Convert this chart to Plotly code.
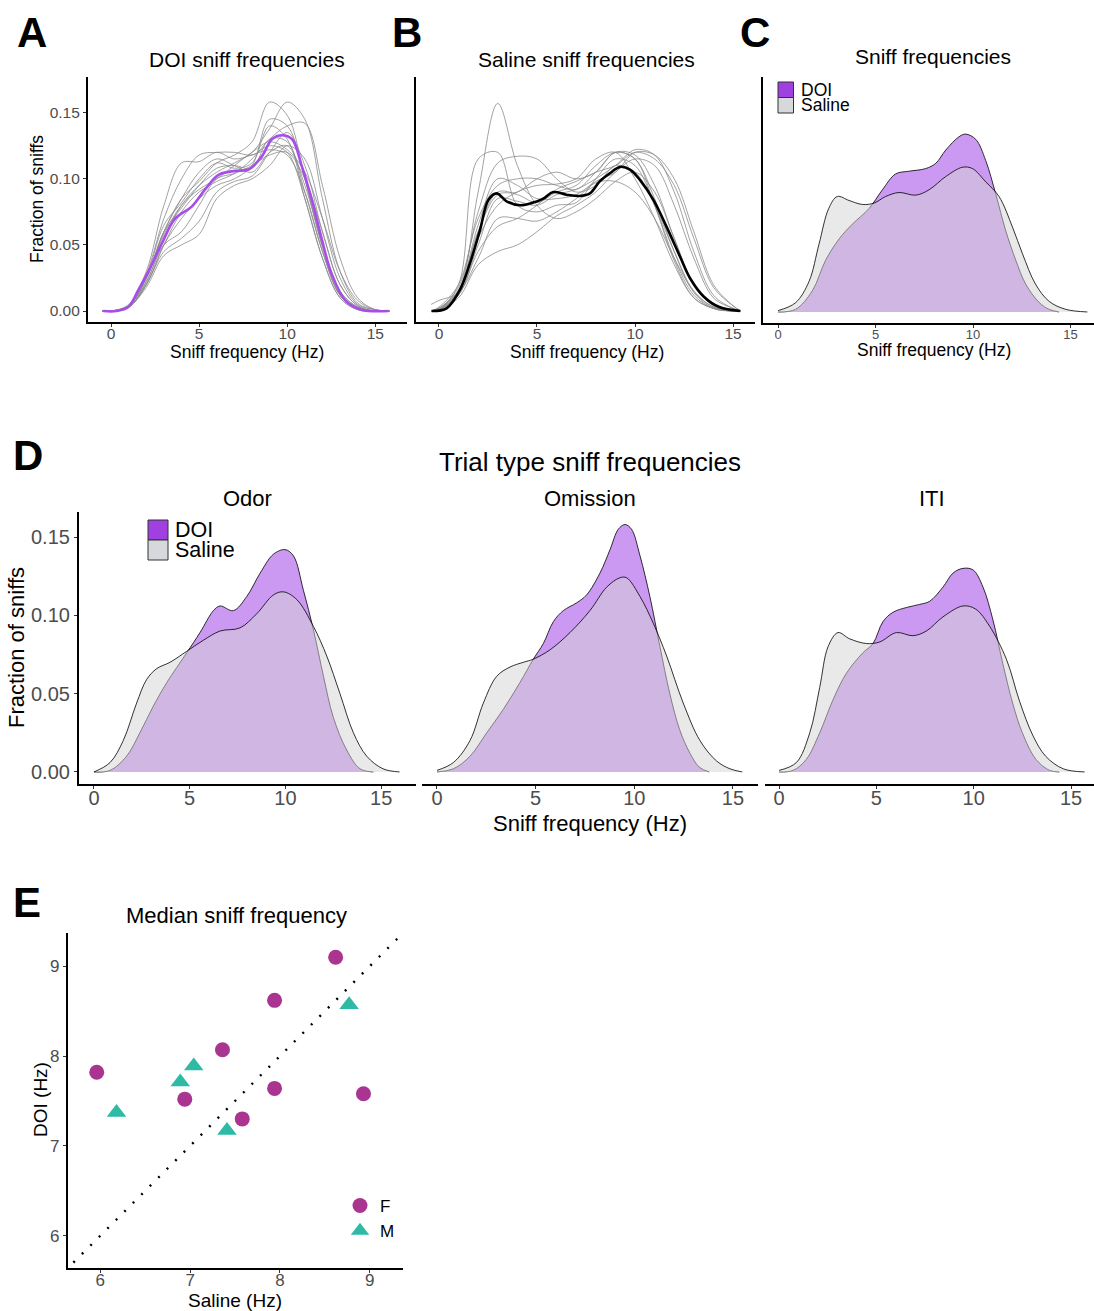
import plotly.graph_objects as go

W, H = 1094, 1311
FONT = "Liberation Sans, Arial, sans-serif"

# ---------------- Panel A: DOI sniff frequencies (per-animal densities) -------------
grid_A = [-0.5, 0, 1, 2, 3, 4, 5, 6, 7, 8, 9, 10, 11, 12, 13, 14, 15, 15.8]
A_lines = [
    [0, 0, 0.004, 0.025, 0.060, 0.085, 0.098, 0.112, 0.118, 0.128, 0.158, 0.148, 0.100, 0.048, 0.012, 0.002, 0, 0],
    [0, 0, 0.003, 0.022, 0.055, 0.080, 0.095, 0.105, 0.112, 0.120, 0.138, 0.158, 0.145, 0.085, 0.030, 0.006, 0.001, 0],
    [0, 0, 0.003, 0.020, 0.050, 0.075, 0.090, 0.098, 0.104, 0.115, 0.130, 0.140, 0.142, 0.095, 0.040, 0.010, 0.001, 0],
    [0, 0, 0.005, 0.030, 0.080, 0.112, 0.113, 0.120, 0.115, 0.118, 0.122, 0.118, 0.090, 0.045, 0.012, 0.002, 0, 0],
    [0, 0, 0.004, 0.028, 0.070, 0.100, 0.118, 0.120, 0.120, 0.118, 0.125, 0.120, 0.085, 0.040, 0.010, 0.001, 0, 0],
    [0, 0, 0.003, 0.020, 0.045, 0.055, 0.068, 0.090, 0.098, 0.102, 0.120, 0.135, 0.110, 0.060, 0.020, 0.004, 0, 0],
    [0, 0, 0.003, 0.018, 0.042, 0.050, 0.058, 0.085, 0.095, 0.100, 0.110, 0.125, 0.115, 0.070, 0.025, 0.005, 0.001, 0],
    [0, 0, 0.004, 0.025, 0.060, 0.078, 0.095, 0.108, 0.110, 0.108, 0.130, 0.128, 0.090, 0.045, 0.012, 0.002, 0, 0],
    [0, 0, 0.004, 0.026, 0.065, 0.082, 0.100, 0.112, 0.108, 0.112, 0.140, 0.130, 0.085, 0.040, 0.010, 0.001, 0, 0],
    [0, 0, 0.003, 0.022, 0.050, 0.060, 0.080, 0.100, 0.104, 0.110, 0.118, 0.120, 0.100, 0.060, 0.020, 0.004, 0, 0],
    [0, 0, 0.004, 0.024, 0.060, 0.085, 0.105, 0.115, 0.110, 0.105, 0.120, 0.125, 0.095, 0.050, 0.015, 0.003, 0, 0],
    [0, 0, 0.003, 0.020, 0.050, 0.070, 0.085, 0.095, 0.100, 0.110, 0.145, 0.140, 0.100, 0.050, 0.015, 0.003, 0, 0],
    [0, 0, 0.004, 0.025, 0.058, 0.080, 0.092, 0.100, 0.110, 0.120, 0.128, 0.122, 0.105, 0.070, 0.030, 0.008, 0.001, 0],
]
A_mean_x = [-0.44, 0.3, 0.98, 1.55, 2.12, 2.88, 3.64, 4.58, 5.34, 6.1, 7.05, 7.8, 8.56, 9.13, 9.7,
            10.27, 10.84, 11.4, 11.97, 12.5, 13.3, 14.2, 15.75]
A_mean_y = [0, 0, 0.003, 0.016, 0.030, 0.051, 0.070, 0.079, 0.092, 0.103, 0.106, 0.107, 0.117, 0.130, 0.133,
            0.130, 0.109, 0.084, 0.054, 0.029, 0.008, 0.001, 0]

# ---------------- Panel B: Saline sniff frequencies ---------------------------------
grid_B = [-0.4, 0, 1, 2, 3, 4, 5, 6, 7, 8, 9, 10, 11, 12, 13, 14, 15, 15.4]
B_lines = [
    [0, 0.001, 0.015, 0.090, 0.157, 0.110, 0.080, 0.070, 0.075, 0.085, 0.098, 0.105, 0.090, 0.055, 0.020, 0.004, 0, 0],
    [0, 0.001, 0.020, 0.115, 0.120, 0.080, 0.075, 0.080, 0.082, 0.100, 0.115, 0.110, 0.080, 0.040, 0.012, 0.002, 0, 0],
    [0, 0.002, 0.018, 0.075, 0.112, 0.117, 0.115, 0.100, 0.090, 0.095, 0.110, 0.105, 0.080, 0.045, 0.015, 0.003, 0, 0],
    [0, 0.003, 0.020, 0.070, 0.095, 0.100, 0.100, 0.095, 0.092, 0.105, 0.120, 0.118, 0.095, 0.055, 0.020, 0.004, 0, 0],
    [0, 0.002, 0.015, 0.060, 0.090, 0.088, 0.082, 0.090, 0.095, 0.110, 0.120, 0.115, 0.085, 0.045, 0.014, 0.002, 0, 0],
    [0, 0.001, 0.012, 0.050, 0.085, 0.083, 0.080, 0.088, 0.092, 0.100, 0.110, 0.122, 0.118, 0.090, 0.045, 0.012, 0.002, 0],
    [0, 0.001, 0.012, 0.045, 0.064, 0.070, 0.080, 0.092, 0.098, 0.105, 0.110, 0.120, 0.115, 0.095, 0.055, 0.018, 0.004, 0],
    [0, 0.001, 0.010, 0.035, 0.045, 0.050, 0.060, 0.072, 0.080, 0.090, 0.105, 0.115, 0.110, 0.080, 0.040, 0.010, 0.002, 0],
    [0, 0.001, 0.014, 0.055, 0.080, 0.090, 0.095, 0.096, 0.100, 0.115, 0.120, 0.100, 0.070, 0.035, 0.010, 0.002, 0, 0],
    [0, 0.002, 0.016, 0.065, 0.100, 0.095, 0.085, 0.085, 0.088, 0.098, 0.105, 0.120, 0.118, 0.100, 0.060, 0.020, 0.004, 0],
    [0.005, 0.008, 0.014, 0.040, 0.070, 0.070, 0.068, 0.075, 0.085, 0.097, 0.098, 0.090, 0.070, 0.040, 0.015, 0.003, 0, 0],
    [0, 0.001, 0.015, 0.060, 0.088, 0.090, 0.100, 0.105, 0.100, 0.105, 0.120, 0.115, 0.080, 0.038, 0.010, 0.002, 0, 0],
]
B_mean_x = [-0.37, 0.39, 1.07, 1.58, 2.09, 2.52, 2.94, 3.45, 4.13, 4.81, 5.32, 5.83, 6.5, 7.19, 7.7, 8.2,
            8.7, 9.23, 9.74, 10.26, 10.94, 11.6, 12.3, 12.8, 13.5, 14.3, 15.36]
B_mean_y = [0, 0.002, 0.016, 0.036, 0.061, 0.084, 0.089, 0.083, 0.080, 0.082, 0.085, 0.090, 0.088, 0.087,
            0.089, 0.098, 0.104, 0.109, 0.107, 0.099, 0.084, 0.064, 0.041, 0.025, 0.011, 0.003, 0]

# ---------------- Panel C: pooled densities ------------------------------------------
C_doi_x = [0, 0.9, 1.76, 2.44, 3.13, 3.8, 4.67, 5.35, 6.03, 6.7, 7.57, 8.09, 8.6, 9.28, 9.62, 10.14,
           10.65, 11.16, 11.68, 12.19, 12.7, 13.4, 13.9, 14.4]
C_doi_y = [0, 0.002, 0.016, 0.039, 0.055, 0.066, 0.078, 0.092, 0.104, 0.106, 0.108, 0.112, 0.122, 0.132,
           0.134, 0.130, 0.114, 0.089, 0.061, 0.039, 0.021, 0.007, 0.002, 0]
C_sal_x = [0, 0.9, 1.59, 2.1, 2.6, 3.04, 3.64, 4.32, 4.92, 5.52, 6.2, 7.06, 7.74, 8.6, 9.45, 9.97,
           10.65, 11.33, 12.02, 12.53, 13.2, 13.9, 14.75, 15.86]
C_sal_y = [0.001, 0.007, 0.023, 0.051, 0.078, 0.087, 0.084, 0.081, 0.082, 0.087, 0.090, 0.088, 0.092,
           0.102, 0.109, 0.108, 0.098, 0.087, 0.064, 0.044, 0.021, 0.008, 0.002, 0]

# ---------------- Panel D: trial-type densities --------------------------------------
facets = ["Odor", "Omission", "ITI"]
odor_doi_x = [0, 0.84, 1.7, 2.4, 3.1, 3.8, 4.84, 5.54, 6.24, 6.59, 7.28, 7.98, 8.68, 9.37, 9.98, 10.42,
              10.94, 11.46, 11.99, 12.5, 13.2, 13.9, 14.6]
odor_doi_y = [0, 0.001, 0.010, 0.025, 0.042, 0.057, 0.076, 0.089, 0.103, 0.106, 0.103, 0.112, 0.127,
              0.139, 0.142, 0.138, 0.116, 0.091, 0.061, 0.035, 0.014, 0.002, 0]
odor_sal_x = [0, 0.84, 1.53, 2.23, 2.75, 3.28, 3.97, 4.84, 5.7, 6.59, 7.63, 8.5, 9.37, 9.9, 10.6, 11.46,
              12.16, 12.85, 13.55, 14.25, 15.1, 15.96]
odor_sal_y = [0, 0.006, 0.020, 0.044, 0.059, 0.066, 0.070, 0.077, 0.084, 0.090, 0.092, 0.101, 0.113,
              0.115, 0.110, 0.093, 0.074, 0.050, 0.025, 0.010, 0.002, 0]
omis_doi_x = [0, 0.83, 1.67, 2.52, 3.36, 4.2, 4.88, 5.39, 5.9, 6.4, 7.08, 7.58, 8.26, 8.77, 9.19, 9.53,
              9.86, 10.29, 10.79, 11.3, 11.8, 12.3, 12.82, 13.3, 13.8]
omis_doi_y = [0, 0.002, 0.010, 0.025, 0.040, 0.057, 0.072, 0.082, 0.096, 0.103, 0.108, 0.113, 0.127,
              0.142, 0.155, 0.158, 0.155, 0.138, 0.112, 0.080, 0.050, 0.027, 0.012, 0.003, 0]
omis_sal_x = [0, 0.83, 1.67, 2.35, 3.02, 3.7, 4.37, 4.88, 5.73, 6.74, 7.75, 8.6, 9.27, 9.61, 10.29,
              10.96, 11.64, 12.48, 13.33, 14.17, 14.85, 15.47]
omis_sal_y = [0.001, 0.006, 0.020, 0.044, 0.061, 0.067, 0.070, 0.072, 0.078, 0.089, 0.103, 0.118, 0.124,
              0.124, 0.112, 0.095, 0.074, 0.044, 0.020, 0.007, 0.002, 0]
iti_doi_x = [0, 0.72, 1.4, 2.09, 2.77, 3.46, 4.3, 4.83, 5.34, 5.86, 6.54, 7.23, 7.74, 8.42, 8.94, 9.45,
             9.97, 10.48, 10.99, 11.5, 12.0, 12.5, 13.2, 13.9, 14.4]
iti_doi_y = [0, 0.001, 0.008, 0.025, 0.046, 0.063, 0.076, 0.082, 0.096, 0.102, 0.105, 0.107, 0.109,
             0.118, 0.127, 0.130, 0.129, 0.118, 0.097, 0.069, 0.044, 0.025, 0.008, 0.001, 0]
iti_sal_x = [0, 0.89, 1.58, 2.09, 2.52, 3.03, 3.63, 4.49, 5.17, 6.03, 6.88, 7.57, 8.42, 9.45, 10.1,
             10.82, 11.68, 12.36, 13.05, 13.7, 14.6, 15.7]
iti_sal_y = [0.001, 0.006, 0.025, 0.054, 0.080, 0.089, 0.085, 0.082, 0.083, 0.089, 0.087, 0.090, 0.099,
             0.106, 0.104, 0.093, 0.072, 0.045, 0.023, 0.010, 0.002, 0]

# ---------------- Panel E: median sniff frequency ------------------------------------
F_saline = [5.96, 8.62, 7.94, 7.36, 6.94, 7.94, 7.58, 8.93]
F_doi = [7.82, 9.10, 8.62, 8.07, 7.52, 7.64, 7.30, 7.58]
M_saline = [6.18, 6.89, 7.04, 7.41, 8.77]
M_doi = [7.37, 7.71, 7.89, 7.17, 8.57]
identity_line = [5.7, 9.35]

legend_groups = ["DOI", "Saline"]

# ---------------- styling -------------------------------------------------------------
DOI_FILL = "rgba(153,51,230,0.5)"
SAL_FILL = "rgba(211,211,211,0.5)"
KEY_COLORS = ["#A040E0", "#D6D8DB"]
GREY_LINE = "#8A8A8A"
PURPLE = "#A64DEB"
MAGENTA = "#A93591"
TEAL = "#2DBBA6"


def px(x):
    return x / W


def py(y):
    return 1 - y / H


fig = go.Figure()

# Panel A
for ys in A_lines:
    fig.add_trace(go.Scatter(x=grid_A, y=ys, mode="lines", line=dict(color=GREY_LINE, width=0.8, shape="spline"),
                             showlegend=False, xaxis="x", yaxis="y", hoverinfo="skip"))
fig.add_trace(go.Scatter(x=A_mean_x, y=A_mean_y, mode="lines", line=dict(color=PURPLE, width=2.6, shape="spline"),
                         showlegend=False, xaxis="x", yaxis="y"))

# Panel B
for ys in B_lines:
    fig.add_trace(go.Scatter(x=grid_B, y=ys, mode="lines", line=dict(color=GREY_LINE, width=0.8, shape="spline"),
                             showlegend=False, xaxis="x2", yaxis="y2", hoverinfo="skip"))
fig.add_trace(go.Scatter(x=B_mean_x, y=B_mean_y, mode="lines", line=dict(color="black", width=2.6, shape="spline"),
                         showlegend=False, xaxis="x2", yaxis="y2"))


def add_density(xs, ys, fill, xa, ya, name):
    fig.add_trace(go.Scatter(x=xs, y=ys, mode="lines", fill="tozeroy", fillcolor=fill, name=name,
                             line=dict(color="black", width=0.8, shape="spline"),
                             showlegend=False, xaxis=xa, yaxis=ya))


# Panel C
add_density(C_doi_x, C_doi_y, DOI_FILL, "x3", "y3", "DOI")
add_density(C_sal_x, C_sal_y, SAL_FILL, "x3", "y3", "Saline")

# Panel D
d_data = [(odor_doi_x, odor_doi_y, odor_sal_x, odor_sal_y),
          (omis_doi_x, omis_doi_y, omis_sal_x, omis_sal_y),
          (iti_doi_x, iti_doi_y, iti_sal_x, iti_sal_y)]
for i, (dx, dy, sx, sy) in enumerate(d_data):
    xa, ya = "x%d" % (4 + i), "y%d" % (4 + i)
    add_density(dx, dy, DOI_FILL, xa, ya, "DOI")
    add_density(sx, sy, SAL_FILL, xa, ya, "Saline")

# Panel E
fig.add_trace(go.Scatter(x=identity_line, y=identity_line, mode="lines",
                         line=dict(color="black", width=2.4, dash="2px,10px"),
                         showlegend=False, xaxis="x7", yaxis="y7"))
fig.add_trace(go.Scatter(x=F_saline, y=F_doi, mode="markers", name="F",
                         marker=dict(symbol="circle", size=15, color=MAGENTA),
                         legend="legend3", xaxis="x7", yaxis="y7"))
fig.add_trace(go.Scatter(x=M_saline, y=M_doi, mode="markers", name="M",
                         marker=dict(symbol="triangle-up", size=17, color=TEAL),
                         legend="legend3", xaxis="x7", yaxis="y7"))

# ---------------- axes -----------------------------------------------------------------
TICKCOL = "#4D4D4D"


def xaxis(l, r, rng, fs, shift, tickvals=(0, 5, 10, 15)):
    return dict(domain=[px(l), px(r)], range=rng, showline=True, linecolor="black", linewidth=2.2,
                ticks="outside", ticklen=3, tickcolor="#333333", tickwidth=1, ticklabelstandoff=shift,
                tickvals=list(tickvals), showgrid=False, zeroline=False,
                tickfont=dict(family=FONT, size=fs, color=TICKCOL), fixedrange=True)


def yaxis(anchor, b, t, rng, fs=15, labels=True, line=True):
    d = dict(domain=[py(b), py(t)], range=rng, showgrid=False, zeroline=False, anchor=anchor,
             showline=line, linecolor="black", linewidth=2.2,
             tickfont=dict(family=FONT, size=fs, color=TICKCOL), fixedrange=True)
    if labels:
        d.update(ticks="outside", ticklen=3, tickcolor="#333333", tickwidth=1,
                 tickvals=[0, 0.05, 0.10, 0.15], tickformat=".2f")
    else:
        d.update(showticklabels=False, ticks="")
    return d


yr_top = [-0.0083, 0.177]
yr_D = [-0.0077, 0.166]

layout = dict(
    width=W, height=H, margin=dict(l=0, r=0, t=0, b=0),
    paper_bgcolor="white", plot_bgcolor="rgba(0,0,0,0)",
    font=dict(family=FONT, color="black"),
    xaxis=dict(xaxis(88, 407, [-1.31, 16.8], 15.5, -7), anchor="y"),
    yaxis=yaxis("x", 322, 77, yr_top, 15.5),
    xaxis2=dict(xaxis(416, 755, [-1.17, 16.12], 15.5, -7), anchor="y2"),
    yaxis2=yaxis("x2", 322, 77, yr_top, labels=False),
    xaxis3=dict(xaxis(763, 1094, [-0.77, 16.2], 13, -5), anchor="y3"),
    yaxis3=yaxis("x3", 323, 77, yr_top, labels=False),
    xaxis4=dict(xaxis(79, 416, [-0.78, 16.82], 20, -8), anchor="y4"),
    yaxis4=yaxis("x4", 784, 512, yr_D, 20),
    xaxis5=dict(xaxis(422, 758, [-0.76, 16.27], 20, -8), anchor="y5"),
    yaxis5=yaxis("x5", 784, 512, yr_D, labels=False, line=False),
    xaxis6=dict(xaxis(765, 1094, [-0.72, 16.18], 20, -8), anchor="y6"),
    yaxis6=yaxis("x6", 784, 512, yr_D, labels=False, line=False),
    xaxis7=dict(xaxis(68, 403, [5.64, 9.37], 17, -8, tickvals=(6, 7, 8, 9)), anchor="y7"),
    yaxis7=dict(domain=[py(1268), py(933)], range=[5.64, 9.37], anchor="x7", showgrid=False, zeroline=False,
                showline=True, linecolor="black", linewidth=2.2, ticks="outside", ticklen=3,
                tickcolor="#333333", tickwidth=1, tickvals=[6, 7, 8, 9],
                tickfont=dict(family=FONT, size=17, color=TICKCOL), fixedrange=True),
    legend3=dict(x=px(340), y=py(1188), xanchor="left", yanchor="top", bgcolor="rgba(0,0,0,0)",
                 font=dict(family=FONT, size=17, color="black"), tracegroupgap=0, itemsizing="trace"),
    showlegend=True,
)

annotations = []
shapes = []


def text(x, y, s, size, bold=False, angle=0, anchor="center"):
    annotations.append(dict(x=px(x), y=py(y), xref="paper", yref="paper", text=("<b>%s</b>" % s) if bold else s,
                            showarrow=False, xanchor=anchor, yanchor="middle", textangle=angle,
                            font=dict(family=FONT, size=size, color="black")))


def key_legend(x0, y0, size, fs, gap):
    # fill-key legend (DOI / Saline), keys stacked without gap like ggplot
    for k, (name, col) in enumerate(zip(legend_groups, KEY_COLORS)):
        top = y0 + k * size
        shapes.append(dict(type="rect", xref="paper", yref="paper",
                           x0=px(x0), x1=px(x0 + size), y0=py(top + size), y1=py(top),
                           fillcolor=col, line=dict(color="#333333", width=1)))
        text(x0 + size + gap, top + size / 2, name, fs, anchor="left")


key_legend(778, 82, 15.5, 17.5, 5)
key_legend(148, 520, 20, 21.5, 5)

# panel letters
text(32, 32, "A", 42, True)
text(407, 32, "B", 42, True)
text(755, 32, "C", 42, True)
text(28, 455, "D", 42, True)
text(27, 902, "E", 42, True)
# titles
text(247, 60, "DOI sniff frequencies", 21)
text(586, 60, "Saline sniff frequencies", 21)
text(933, 57, "Sniff frequencies", 21)
text(590, 462, "Trial type sniff frequencies", 26)
for name, cx in zip(facets, [247, 590, 932]):
    text(cx, 498, name, 22)
text(236, 915, "Median sniff frequency", 22)
# axis titles
text(247, 352, "Sniff frequency (Hz)", 17.5)
text(587, 352, "Sniff frequency (Hz)", 17.5)
text(934, 350, "Sniff frequency (Hz)", 17.5)
text(37, 199, "Fraction of sniffs", 17.5, angle=-90)
text(590, 823, "Sniff frequency (Hz)", 22)
text(16, 648, "Fraction of sniffs", 22, angle=-90)
text(235, 1300, "Saline (Hz)", 19)
text(40, 1100, "DOI (Hz)", 19, angle=-90)

layout["annotations"] = annotations
layout["shapes"] = shapes
fig.update_layout(**layout)
fig.write_html("out.html")
